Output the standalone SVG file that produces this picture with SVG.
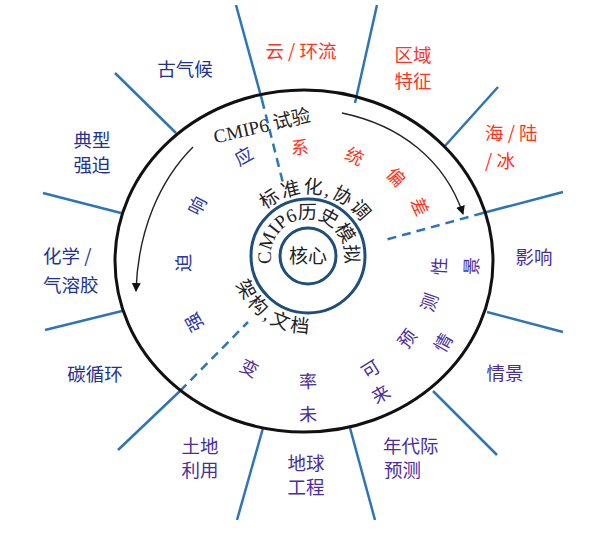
<svg xmlns="http://www.w3.org/2000/svg" width="611" height="535" viewBox="0 0 611 535">
<style>
.ray{stroke:#2e75b6;stroke-width:2.5;fill:none}
.dash{stroke:#2e75b6;stroke-width:2.5;fill:none;stroke-dasharray:9 6}
.circ{stroke:#1f4e79;stroke-width:3;fill:none}
.arr{stroke:#222;stroke-width:1.4;fill:none;marker-end:url(#ah)}
.lab{font-family:"Noto Sans CJK SC","Noto Sans",sans-serif;font-size:18.5px;dominant-baseline:central}
.c{text-anchor:middle}
.blue{fill:#22338f}
.pur{fill:#4a2d9d}
.red{fill:#ff3322}
.ser{font-family:"Liberation Serif","Noto Sans CJK SC",serif;font-size:19px;fill:#222}
.rc{font-family:"Noto Sans CJK SC",sans-serif;font-size:18px;text-anchor:middle;dominant-baseline:central}
.rb{fill:#2b35a8}
</style>
<defs>
<marker id="ah" markerWidth="9" markerHeight="9" refX="8" refY="4.5" orient="auto" markerUnits="userSpaceOnUse">
<path d="M0,0 L9,4.5 L0,9 Z" fill="#111"/>
</marker>
<path id="p1" d="M252.4,226.4 A64,64 0 0 1 370.6,242.7"/>
<path id="p2" d="M271.6,262.4 A37,37 0 1 1 344.4,262.4"/>
<path id="p3" d="M231.05,258.7 A77,77 0 0 0 336.8,327.4"/>
</defs>
<rect width="611" height="535" fill="#fff"/>

<g id="connectors">
<line class="ray" x1="236" y1="5" x2="262" y2="100"/>
<line class="ray" x1="377" y1="5" x2="355" y2="103"/>
<line class="ray" x1="498" y1="87" x2="444" y2="147"/>
<line class="ray" x1="563" y1="192" x2="483" y2="213"/>
<line class="ray" x1="563" y1="332" x2="487" y2="312"/>
<line class="ray" x1="497" y1="455" x2="433" y2="391"/>
<line class="ray" x1="375" y1="520" x2="350" y2="428"/>
<line class="ray" x1="237" y1="520" x2="263" y2="428"/>
<line class="ray" x1="118" y1="450" x2="180" y2="391"/>
<line class="ray" x1="45" y1="330" x2="122" y2="311"/>
<line class="ray" x1="43" y1="193" x2="121" y2="213"/>
<line class="ray" x1="115" y1="73" x2="176" y2="133"/>
<line class="dash" x1="262" y1="100" x2="283" y2="183"/>
<line class="dash" x1="483" y1="213" x2="385" y2="240"/>
<line class="dash" x1="180" y1="391" x2="248" y2="322"/>
<path class="arr" d="M342,113 C400,125 445,160 463,214"/>
<path class="arr" d="M193,147 C160,180 138,230 136,291"/>
</g>

<g id="ring">
<ellipse cx="304" cy="261" rx="189" ry="171" fill="none" stroke="#111" stroke-width="3"/>
<text class="ser" text-anchor="middle" dominant-baseline="central" transform="translate(262,126) rotate(-13)">CMIP6 试验</text>
<g class="rc red">
<text transform="translate(300,146) rotate(-2)">系</text>
<text transform="translate(355,155) rotate(26)">统</text>
<text transform="translate(397,176) rotate(47)">偏</text>
<text transform="translate(421,206) rotate(65)">差</text>
</g>
<g class="rc rb">
<text transform="translate(243,155) rotate(-29)">应</text>
<text transform="translate(196,205) rotate(-63)">响</text>
<text transform="translate(182,263) rotate(-91)">迫</text>
<text transform="translate(193,323) rotate(-119)">强</text>
</g>
<g class="rc pur">
<text transform="translate(250,367) rotate(27)">变</text>
<text transform="translate(308,380) rotate(-2)">率</text>
<text transform="translate(370,368) rotate(-32)">可</text>
<text transform="translate(406,338) rotate(-53)">预</text>
<text transform="translate(428,302) rotate(-71)">测</text>
<text transform="translate(438,266) rotate(-87)">性</text>
<text transform="translate(308,413) rotate(-2)">未</text>
<text transform="translate(380,393) rotate(-30)">来</text>
<text transform="translate(442,342) rotate(-60)">情</text>
<text transform="translate(470,266) rotate(-88)">景</text>
</g>
</g>

<g id="history">
<circle class="circ" cx="308" cy="256" r="57"/>
<text class="ser" font-size="19"><textPath href="#p1" startOffset="50%" text-anchor="middle" letter-spacing="2">标准化,协调</textPath></text>
<text class="ser" font-size="18"><textPath href="#p2" startOffset="50%" text-anchor="middle">CMIP6历史模拟</textPath></text>
<text class="ser" font-size="18"><textPath href="#p3" startOffset="50%" text-anchor="middle" letter-spacing="3">架构,文档</textPath></text>
</g>

<g id="core">
<circle class="circ" cx="308" cy="256" r="28"/>
<text class="ser c" x="308" y="256" dominant-baseline="central" font-size="19">核心</text>
</g>

<g id="n-paleo"><text class="lab c blue" x="185" y="68">古气候</text></g>
<g id="n-cloud"><text class="lab c red" x="301" y="50">云 / 环流</text></g>
<g id="n-region"><text class="lab c red" x="413" y="54">区域</text><text class="lab c red" x="413" y="80">特征</text></g>
<g id="n-ocean"><text class="lab red" x="485" y="132">海 / 陆</text><text class="lab red" x="485" y="160">/ 冰</text></g>
<g id="n-impact"><text class="lab c pur" x="534" y="256">影响</text></g>
<g id="n-scen"><text class="lab c pur" x="505" y="372">情景</text></g>
<g id="n-decadal"><text class="lab pur" x="383" y="445">年代际</text><text class="lab pur" x="384" y="469">预测</text></g>
<g id="n-geo"><text class="lab c pur" x="306" y="462">地球</text><text class="lab c pur" x="306" y="486">工程</text></g>
<g id="n-land"><text class="lab c pur" x="200" y="445">土地</text><text class="lab c pur" x="200" y="469">利用</text></g>
<g id="n-carbon"><text class="lab c blue" x="95" y="373">碳循环</text></g>
<g id="n-chem"><text class="lab blue" x="43" y="255">化学 /</text><text class="lab blue" x="43" y="284">气溶胶</text></g>
<g id="n-forcing"><text class="lab c blue" x="92" y="139">典型</text><text class="lab c blue" x="92" y="164">强迫</text></g>
</svg>
